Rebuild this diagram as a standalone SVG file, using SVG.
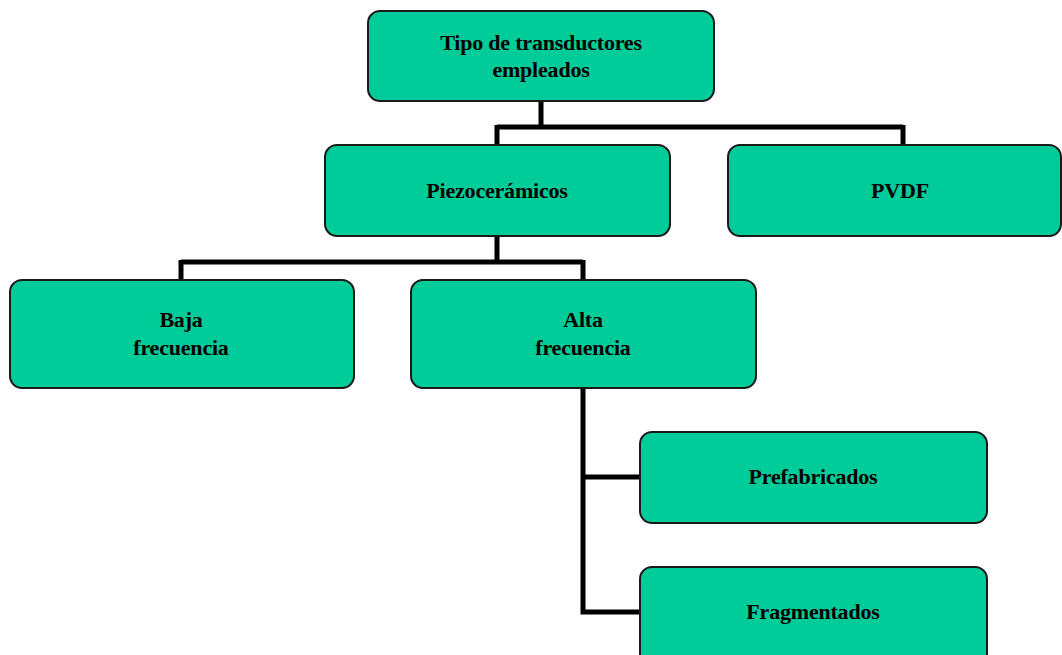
<svg xmlns="http://www.w3.org/2000/svg" width="1062" height="655" viewBox="0 0 1062 655">
<style>
.box{fill:#00CC99;stroke:#1a1a1a;stroke-width:2}
.lbl{font-family:"Liberation Serif",serif;font-weight:bold;font-size:22px;fill:#000;text-anchor:middle;letter-spacing:-0.2px}
.con{fill:none;stroke:#000;stroke-width:5}
</style>
<rect width="1062" height="655" fill="#fff"/>
<g id="connectors">
<path class="con" d="M541,101 V127 M497,127 H903 M497,125 V145 M903,125 V145"/>
<path class="con" d="M497,236 V262 M181,262 H583 M181,260 V280 M583,260 V280"/>
<path class="con" d="M583,388 V612 H640 M583,477 H640"/>
</g>
<g id="n-root">
<rect class="box" x="368" y="11" width="346" height="90" rx="12"/>
<text class="lbl" x="541" y="50">Tipo de transductores</text>
<text class="lbl" x="541" y="77">empleados</text>
</g>
<g id="n-piezo">
<rect class="box" x="325" y="145" width="345" height="91" rx="12"/>
<text class="lbl" x="497" y="198">Piezocerámicos</text>
</g>
<g id="n-pvdf">
<rect class="box" x="728" y="145" width="333" height="91" rx="12"/>
<text class="lbl" x="900" y="198">PVDF</text>
</g>
<g id="n-baja">
<rect class="box" x="10" y="280" width="344" height="108" rx="12"/>
<text class="lbl" x="181" y="327">Baja</text>
<text class="lbl" x="181" y="355">frecuencia</text>
</g>
<g id="n-alta">
<rect class="box" x="411" y="280" width="345" height="108" rx="12"/>
<text class="lbl" x="583" y="327">Alta</text>
<text class="lbl" x="583" y="355">frecuencia</text>
</g>
<g id="n-pref">
<rect class="box" x="640" y="432" width="347" height="91" rx="12"/>
<text class="lbl" x="813" y="484">Prefabricados</text>
</g>
<g id="n-frag">
<rect class="box" x="640" y="567" width="347" height="100" rx="12"/>
<text class="lbl" x="813" y="619">Fragmentados</text>
</g>
</svg>
